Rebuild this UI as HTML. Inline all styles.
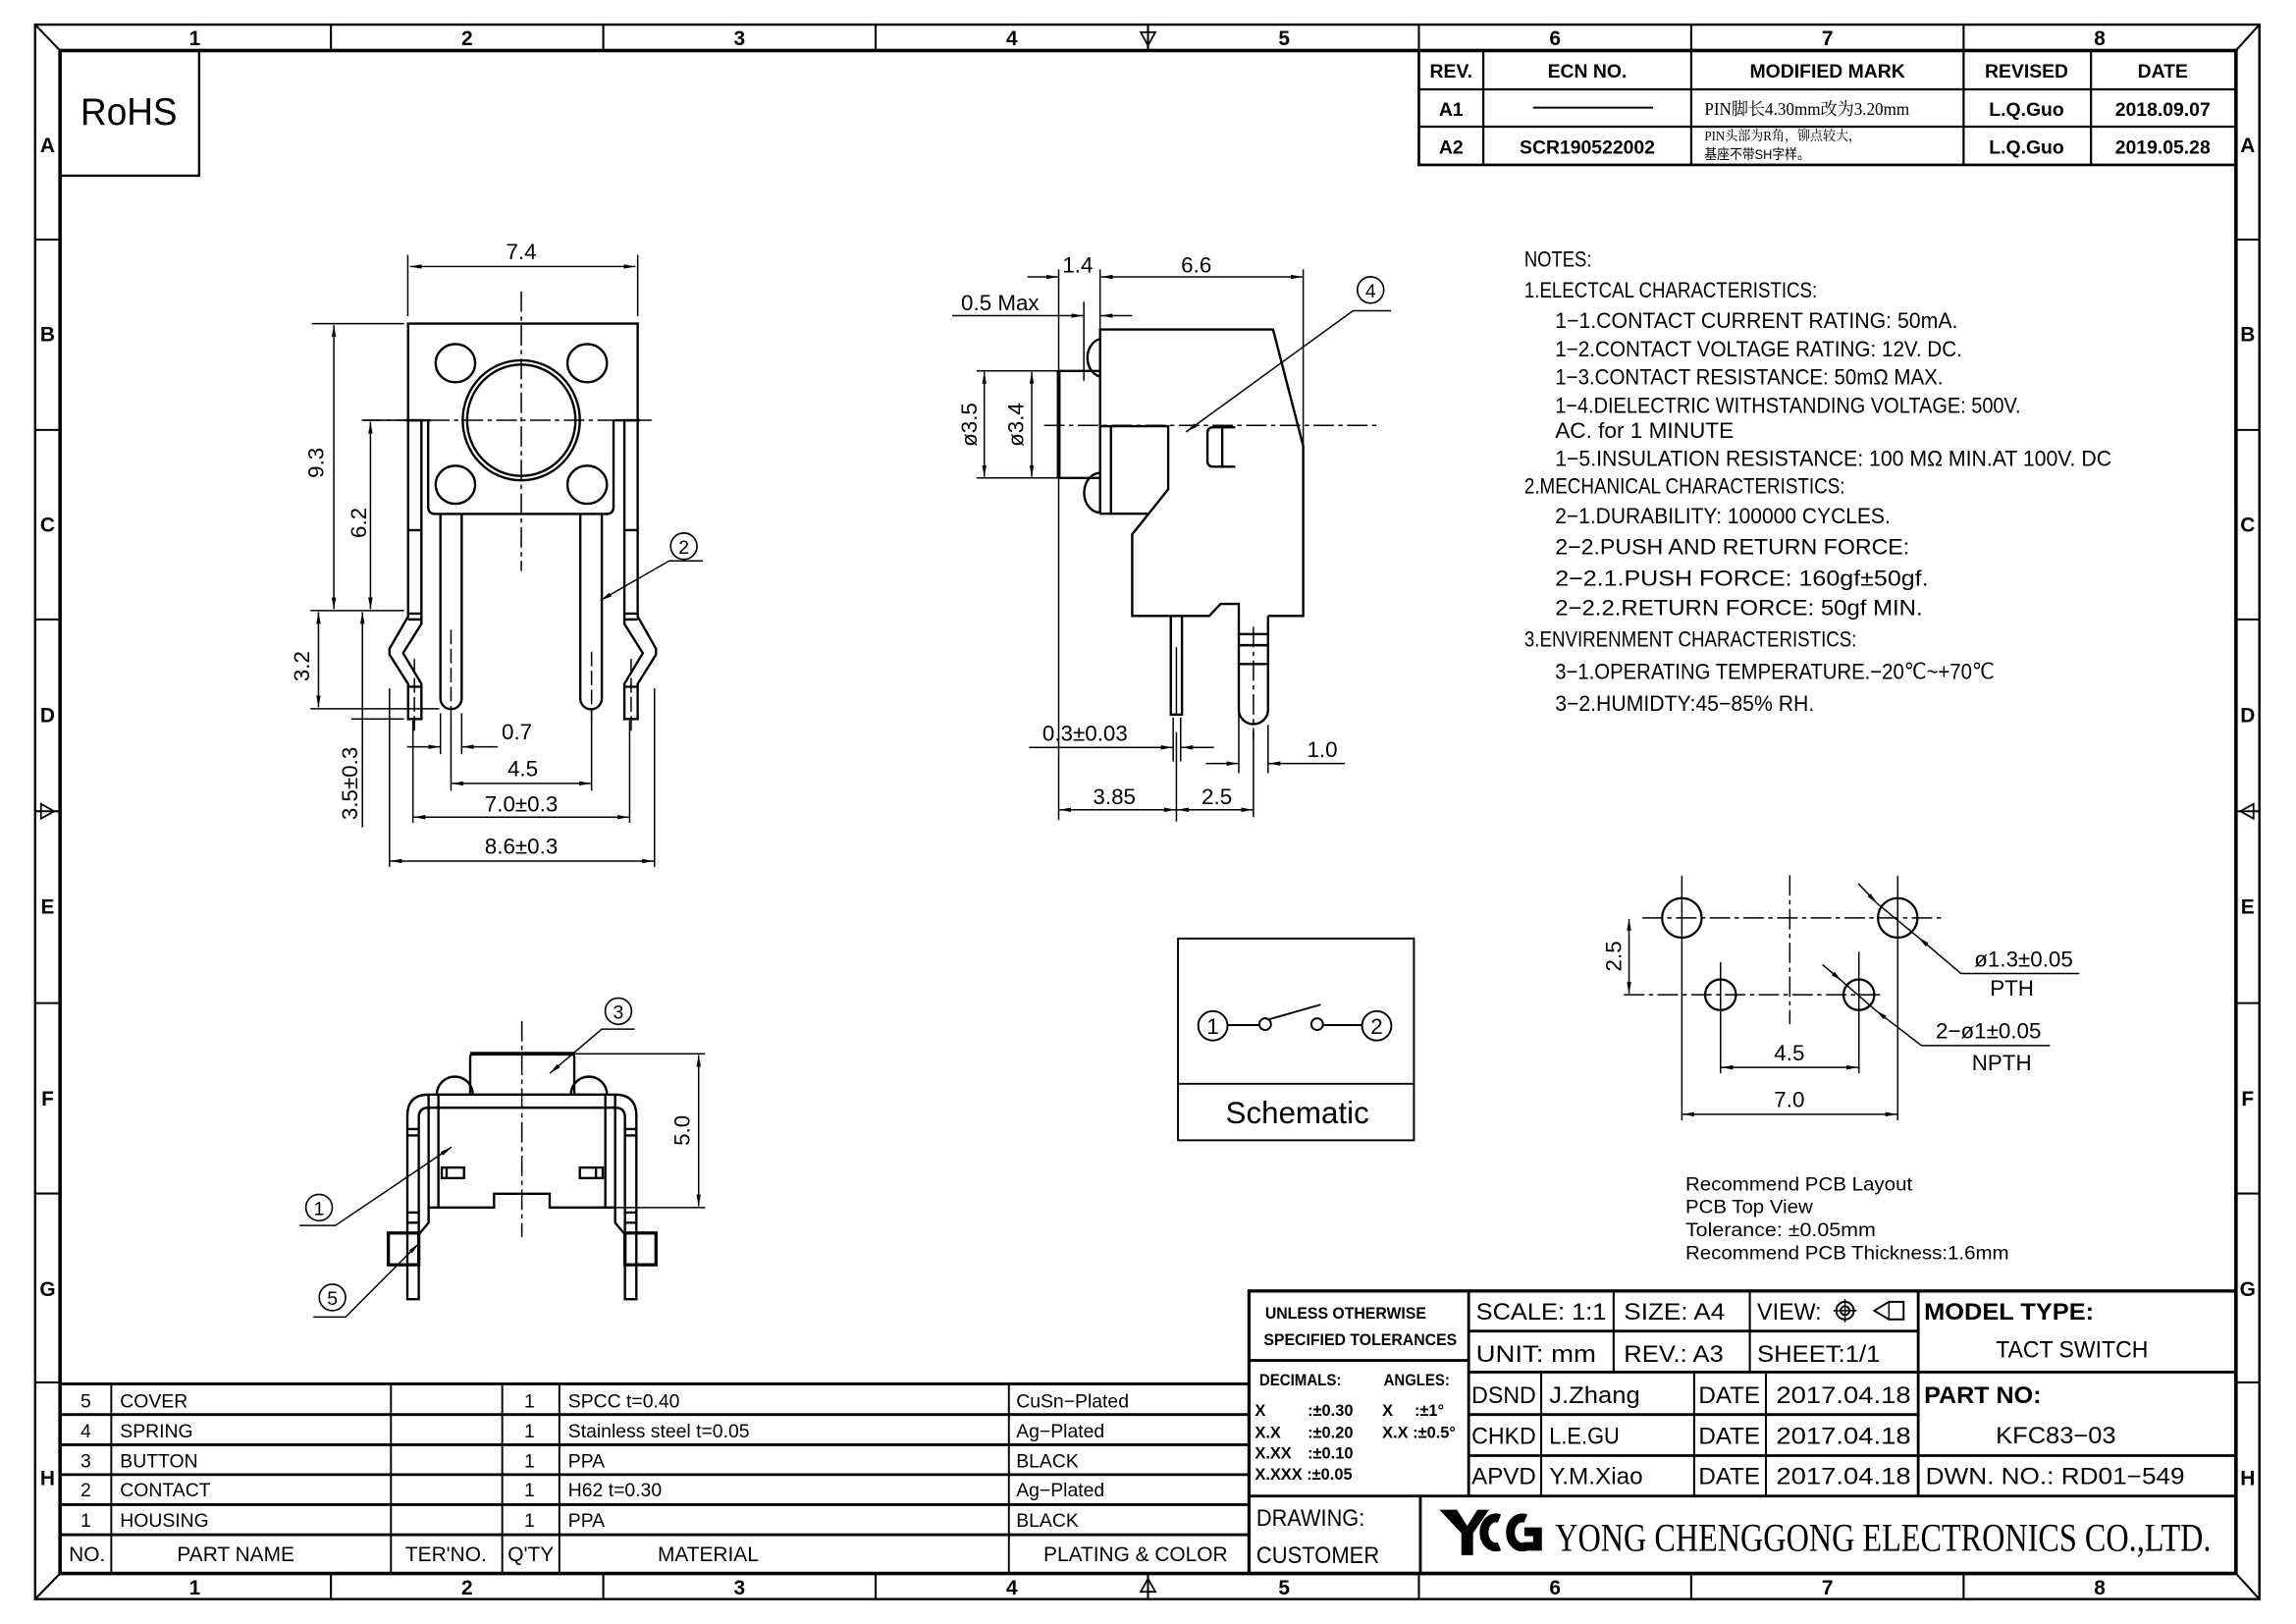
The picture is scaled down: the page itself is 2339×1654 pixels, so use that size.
<!DOCTYPE html>
<html><head><meta charset="utf-8"><style>
html,body{margin:0;padding:0;background:#fff}
svg{display:block}
text{font-family:"Liberation Sans Narrow","Liberation Sans",sans-serif;fill:#000}
.s{font-family:"Liberation Serif","Noto Serif CJK SC",serif}
.c{font-family:"Liberation Sans","Noto Sans CJK SC",sans-serif}
.b{font-weight:bold}
</style></head><body>
<svg width="2339" height="1654" viewBox="0 0 1568 1109" preserveAspectRatio="none" xmlns="http://www.w3.org/2000/svg">
<defs>
<marker id="a" viewBox="0 0 8 3" refX="8" refY="1.5" markerWidth="8" markerHeight="3" markerUnits="userSpaceOnUse" orient="auto-start-reverse"><path d="M0,0 L8,1.5 L0,3z"/></marker>
</defs>
<rect width="1568" height="1109" fill="#fff"/>
<g fill="none" stroke="#000">
<rect x="24" y="16.8" width="1519" height="1075.2" stroke-width="1.6"/>
<rect x="41" y="34.5" width="1486" height="1040" stroke-width="2.4"/>
<path d="M24,16.8L41,34.5M1543,16.8L1527,34.5M24,1092L41,1074.5M1543,1092L1527,1074.5" stroke-width="1.4"/>
<path d="M226,16.8V34.5M412,16.8V34.5M598,16.8V34.5M784,16.8V34.5M969,16.8V34.5M1155,16.8V34.5M1341,16.8V34.5M226,1074.5V1092M412,1074.5V1092M598,1074.5V1092M784,1074.5V1092M969,1074.5V1092M1155,1074.5V1092M1341,1074.5V1092" stroke-width="1.4"/>
<path d="M24,163.6H41M24,293.6H41M24,423H41M24,554H41M24,685H41M24,815H41M24,944H41M1527,163.6H1543M1527,293.6H1543M1527,423H1543M1527,554H1543M1527,685H1543M1527,815H1543M1527,944H1543" stroke-width="1.4"/>
<path d="M779,22L789,22L784,31Z M779,1087L789,1087L784,1078Z M28,549V559L37,554Z M1539,549V559L1530,554Z" stroke-width="1.2"/>
<path d="M41,120H136V34.5" stroke-width="1.6"/>
<rect x="969" y="34.5" width="558" height="78.1" stroke-width="1.8"/>
<path d="M969,61H1527M969,86.5H1527M1013,34.5V112.6M1155,34.5V112.6M1341,34.5V112.6M1428,34.5V112.6" stroke-width="1.5"/>
<path d="M1047,73.5H1129" stroke-width="1.3"/>
</g>
<g class="b" font-size="14" text-anchor="middle" font-weight="bold">
<text x="133" y="31">1</text><text x="319" y="31">2</text><text x="505" y="31">3</text><text x="691" y="31">4</text><text x="877" y="31">5</text><text x="1062" y="31">6</text><text x="1248" y="31">7</text><text x="1434" y="31">8</text>
<text x="133" y="1089">1</text><text x="319" y="1089">2</text><text x="505" y="1089">3</text><text x="691" y="1089">4</text><text x="877" y="1089">5</text><text x="1062" y="1089">6</text><text x="1248" y="1089">7</text><text x="1434" y="1089">8</text>
<text x="32.5" y="104">A</text><text x="32.5" y="233">B</text><text x="32.5" y="363">C</text><text x="32.5" y="493">D</text><text x="32.5" y="624">E</text><text x="32.5" y="755">F</text><text x="32.5" y="885">G</text><text x="32.5" y="1014">H</text>
<text x="1535" y="104">A</text><text x="1535" y="233">B</text><text x="1535" y="363">C</text><text x="1535" y="493">D</text><text x="1535" y="624">E</text><text x="1535" y="755">F</text><text x="1535" y="885">G</text><text x="1535" y="1014">H</text>
</g>
<text x="55" y="85" font-size="26" textLength="66" lengthAdjust="spacingAndGlyphs" class="c">RoHS</text>
<g font-size="13" text-anchor="middle" class="b" font-weight="bold">
<text x="991" y="53">REV.</text><text x="1084" y="53">ECN NO.</text><text x="1248" y="53">MODIFIED MARK</text><text x="1384" y="53">REVISED</text><text x="1477" y="53">DATE</text>
<text x="991" y="79">A1</text><text x="1384" y="79">L.Q.Guo</text><text x="1477" y="79">2018.09.07</text>
<text x="991" y="105">A2</text><text x="1084" y="105">SCR190522002</text><text x="1384" y="105">L.Q.Guo</text><text x="1477" y="105">2019.05.28</text>
</g>
<text x="1164" y="78.5" font-size="12" class="s" textLength="140" lengthAdjust="spacingAndGlyphs">PIN脚长4.30mm改为3.20mm</text>
<text x="1164" y="96" font-size="9.5" class="s" textLength="107" lengthAdjust="spacingAndGlyphs">PIN头部为R角，铆点较大，</text>
<text x="1164" y="108.5" font-size="9.5" class="c" textLength="72" lengthAdjust="spacingAndGlyphs">基座不带SH字样。</text>

<!-- FRONT VIEW -->
<g fill="none" stroke="#000" stroke-width="1.6">
<path d="M278.7,287V221H435.5V287"/>
<path d="M292.4,287V346Q292.4,351 297.4,351H414Q419,351 419,346V287"/>
<ellipse cx="311" cy="248" rx="13.5" ry="13"/><ellipse cx="401" cy="248" rx="13.5" ry="13"/>
<ellipse cx="311" cy="331" rx="13.5" ry="13"/><ellipse cx="401" cy="331" rx="13.5" ry="13"/>
<ellipse cx="356" cy="287" rx="40" ry="41"/><ellipse cx="356" cy="287" rx="37" ry="38"/>
<path d="M300.8,351V477A7.25,7.25 0 0 0 315.3,477V351"/>
<path d="M396.3,351V477A7.25,7.25 0 0 0 411,477V351"/>
<path d="M278.7,287V421L266,443V447L278.7,467V491H287.8V467L275.3,446L287.8,426V287Z"/>
<path d="M278.7,419H287.8M278.7,423H287.8M278.7,469H287.8M278.7,362H287.8"/>
<path d="M435.5,287V421L448,443V447L435.5,467V491H426.4V467L439,446L426.4,426V287Z"/>
<path d="M426.4,419H435.5M426.4,423H435.5M426.4,469H435.5M426.4,362H435.5"/>
<path d="M277,287H294M420,287H437"/>
</g>
<g fill="none" stroke="#000" stroke-width="1">
<path d="M356,199V390M247,287H445" stroke-dasharray="14,3,3,3"/>
<path d="M308,430V492M404,445V492M283,450V500M431,450V500" stroke-dasharray="10,3"/>
<path d="M278.5,174V216M435.5,174V216"/>
<path d="M213,221H276M248,287H277M212,417H276M212,484H300M240,491H276"/>
<path d="M300.8,487V515M315.3,487V515M308,492V540M404,485V540M282,492V562M430,492V562M266,470V592M447,470V592"/>
<path d="M280,182H434" marker-start="url(#a)" marker-end="url(#a)"/>
<path d="M228,222V416" marker-start="url(#a)" marker-end="url(#a)"/>
<path d="M253,288V416" marker-start="url(#a)" marker-end="url(#a)"/>
<path d="M217.5,418V483" marker-start="url(#a)" marker-end="url(#a)"/>
<path d="M247.5,418V490M247.5,490V565" marker-start="url(#a)"/>
<path d="M278,510H300.5" marker-end="url(#a)"/><path d="M340,510H315.6" marker-end="url(#a)"/>
<path d="M308.5,535H403.5" marker-start="url(#a)" marker-end="url(#a)"/>
<path d="M282.5,558H429.5" marker-start="url(#a)" marker-end="url(#a)"/>
<path d="M266.5,588H446.5" marker-start="url(#a)" marker-end="url(#a)"/>
<path d="M480,383H457L410,410" marker-end="url(#a)"/>
</g>
<circle cx="467" cy="373" r="9" fill="none" stroke="#000" stroke-width="1.1"/>
<g font-size="15" text-anchor="middle">
<text x="467" y="378" font-size="13">2</text>
<text x="356" y="177">7.4</text>
<text x="353" y="505">0.7</text>
<text x="357" y="530">4.5</text>
<text x="356" y="554">7.0±0.3</text>
<text x="356" y="583">8.6±0.3</text>
<text transform="translate(221,316) rotate(-90)">9.3</text>
<text transform="translate(250,357) rotate(-90)">6.2</text>
<text transform="translate(211,455) rotate(-90)">3.2</text>
<text transform="translate(244,535) rotate(-90)">3.5±0.3</text>
</g>

<!-- SIDE VIEW -->
<g fill="none" stroke="#000" stroke-width="1.6">
<path d="M751.3,351V225H869.4L890,304.6V420.6H866M846,420.6V412.4H833.6L825.8,420.6H773.2V364.9L797.8,334.1V291H751.3"/>
<path d="M751.3,350.8H784.5M758.7,291V350.8"/>
<path d="M723,253.3H751.3M723,326.4H751.3"/>
<path d="M723,253.3V326.4" stroke-width="2.6"/>
<path d="M751.3,231.5A10.5,13 0 0 0 751.3,257.1M751.3,323A10.5,13 0 0 0 751.3,350"/>
<path d="M843.6,291.8H828.6Q824.6,291.8 824.6,295.8V314.7Q824.6,318.7 828.6,318.7H843.6M834.7,291.8V318.7"/>
<path d="M799.6,420.6V488H807.2V420.6"/>
<path d="M846,420.6V484.5A10,10 0 0 0 866,484.5V420.6"/>
<path d="M846,433H866M846,440.6H866M846,453.5H866"/>
</g>
<g fill="none" stroke="#000" stroke-width="1">
<path d="M803.4,442V488"/>
<path d="M713,290.5H940M856,428V505" stroke-dasharray="14,3,3,3"/>
<path d="M723,184V560M751.3,184V245M890,184V305M740.2,206V260M801.2,490V520M806.3,490V520M846,485V528M866,495V528M803.4,500V561M856,500V558"/>
<path d="M667,253.3H744M667,326.4H744"/>
<path d="M701.7,189.1H722.5" marker-end="url(#a)"/>
<path d="M752,189.1H889.5" marker-start="url(#a)" marker-end="url(#a)"/>
<path d="M650.3,215.6H739.7" marker-end="url(#a)"/><path d="M773.2,215.6H751.8" marker-end="url(#a)"/>
<path d="M672.2,254V325.7" marker-start="url(#a)" marker-end="url(#a)"/>
<path d="M704.6,254V325.7" marker-start="url(#a)" marker-end="url(#a)"/>
<path d="M702.8,510.4H800.8" marker-end="url(#a)"/><path d="M829,510.4H806.7" marker-end="url(#a)"/>
<path d="M823.5,521.4H845.6" marker-end="url(#a)"/><path d="M918.5,521.4H866.4" marker-end="url(#a)"/>
<path d="M723.5,553H803" marker-start="url(#a)" marker-end="url(#a)"/>
<path d="M803.8,553H855.6" marker-start="url(#a)" marker-end="url(#a)"/>
<path d="M950,212.2H924L810,295" marker-end="url(#a)"/>
</g>
<circle cx="936" cy="198" r="9" fill="none" stroke="#000" stroke-width="1.1"/>
<g font-size="15" text-anchor="middle">
<text x="936" y="203" font-size="13">4</text>
<text x="736" y="186">1.4</text>
<text x="817" y="186">6.6</text>
<text x="683" y="212">0.5 Max</text>
<text x="741" y="506">0.3±0.03</text>
<text x="903" y="517">1.0</text>
<text x="761" y="549">3.85</text>
<text x="831" y="549">2.5</text>
<text transform="translate(667,290) rotate(-90)">ø3.5</text>
<text transform="translate(699,290) rotate(-90)">ø3.4</text>
</g>

<!-- NOTES -->
<g font-size="15">
<text x="1041" y="182" textLength="46" lengthAdjust="spacingAndGlyphs">NOTES:</text>
<text x="1041" y="203" textLength="200" lengthAdjust="spacingAndGlyphs">1.ELECTCAL  CHARACTERISTICS:</text>
<text x="1062" y="224" textLength="275" lengthAdjust="spacingAndGlyphs">1−1.CONTACT  CURRENT  RATING:   50mA.</text>
<text x="1062" y="243.5" textLength="278" lengthAdjust="spacingAndGlyphs">1−2.CONTACT  VOLTAGE  RATING:  12V.  DC.</text>
<text x="1062" y="262.5" textLength="265" lengthAdjust="spacingAndGlyphs">1−3.CONTACT  RESISTANCE:  50mΩ  MAX.</text>
<text x="1062" y="282" textLength="318" lengthAdjust="spacingAndGlyphs">1−4.DIELECTRIC  WITHSTANDING  VOLTAGE:  500V.</text>
<text x="1062" y="299" textLength="122" lengthAdjust="spacingAndGlyphs">AC.  for  1  MINUTE</text>
<text x="1062" y="318" textLength="380" lengthAdjust="spacingAndGlyphs">1−5.INSULATION  RESISTANCE:  100  MΩ  MIN.AT  100V.  DC</text>
<text x="1041" y="337" textLength="219" lengthAdjust="spacingAndGlyphs">2.MECHANICAL  CHARACTERISTICS:</text>
<text x="1062" y="357.5" textLength="229" lengthAdjust="spacingAndGlyphs">2−1.DURABILITY:  100000  CYCLES.</text>
<text x="1062" y="378.5" textLength="242" lengthAdjust="spacingAndGlyphs">2−2.PUSH  AND  RETURN  FORCE:</text>
<text x="1062" y="400" textLength="255" lengthAdjust="spacingAndGlyphs">2−2.1.PUSH  FORCE:  160gf±50gf.</text>
<text x="1062" y="420" textLength="251" lengthAdjust="spacingAndGlyphs">2−2.2.RETURN  FORCE:  50gf  MIN.</text>
<text x="1041" y="441.5" textLength="227" lengthAdjust="spacingAndGlyphs">3.ENVIRENMENT  CHARACTERISTICS:</text>
<text x="1062" y="463.5" textLength="300" lengthAdjust="spacingAndGlyphs">3−1.OPERATING  TEMPERATURE.−20℃~+70℃</text>
<text x="1062" y="485.5" textLength="177" lengthAdjust="spacingAndGlyphs">3−2.HUMIDTY:45−85%  RH.</text>
</g>

<!-- SCHEMATIC -->
<g fill="none" stroke="#000" stroke-width="1.3">
<rect x="804.5" y="640.9" width="161.1" height="137.8"/>
<path d="M804.5,740.1H965.6"/>
<circle cx="828.3" cy="700.5" r="10"/><circle cx="940.2" cy="700.5" r="10"/>
<circle cx="864" cy="699.4" r="4"/><circle cx="899.5" cy="699.4" r="4"/>
<path d="M838.5,700H860M903.5,700H930M867,696L902,686"/>
</g>
<g text-anchor="middle" class="c">
<text x="828.3" y="706" font-size="15">1</text><text x="940.2" y="706" font-size="15">2</text>
<text x="886" y="767" font-size="21" font-family="Liberation Sans">Schematic</text>
</g>

<!-- PCB LAYOUT -->
<g fill="none" stroke="#000" stroke-width="1.5">
<ellipse cx="1148.6" cy="626.8" rx="13.5" ry="13.5"/>
<ellipse cx="1296" cy="626.8" rx="13.5" ry="13.5"/>
<circle cx="1175" cy="679.3" r="10.5"/>
<circle cx="1269.5" cy="679.3" r="10.5"/>
</g>
<g fill="none" stroke="#000" stroke-width="1">
<path d="M1222.3,597.7V699.4M1121.6,626.8H1327.5M1109,679.3H1286.8" stroke-dasharray="14,3,3,3"/>
<path d="M1148.6,598V765M1296,598V765M1175,657V733M1269.5,650V733"/>
<path d="M1112.5,627.5V678.6" marker-start="url(#a)" marker-end="url(#a)"/>
<path d="M1175.5,728.9H1269" marker-start="url(#a)" marker-end="url(#a)"/>
<path d="M1149,760.9H1295.6" marker-start="url(#a)" marker-end="url(#a)"/>
<path d="M1269,603.3L1282,617" marker-end="url(#a)"/>
<path d="M1420,664.8H1339.2L1310,640" marker-end="url(#a)"/>
<path d="M1244.6,658.7L1258,670" marker-end="url(#a)"/>
<path d="M1400,714H1312.2L1281,690" marker-end="url(#a)"/>
<path d="M1282,617L1310,640M1258,670L1281,690"/>
</g>
<g font-size="15" text-anchor="middle">
<text transform="translate(1107,653) rotate(-90)">2.5</text>
<text x="1222" y="724">4.5</text>
<text x="1222" y="756">7.0</text>
<text x="1382" y="660">ø1.3±0.05</text>
<text x="1374" y="680">PTH</text>
<text x="1358" y="709">2−ø1±0.05</text>
<text x="1367" y="731">NPTH</text>
</g>
<g font-size="13">
<text x="1151" y="813" textLength="155" lengthAdjust="spacingAndGlyphs">Recommend  PCB  Layout</text>
<text x="1151" y="828.5" textLength="87" lengthAdjust="spacingAndGlyphs">PCB  Top  View</text>
<text x="1151" y="844" textLength="130" lengthAdjust="spacingAndGlyphs">Tolerance:  ±0.05mm</text>
<text x="1151" y="860" textLength="221" lengthAdjust="spacingAndGlyphs">Recommend  PCB  Thickness:1.6mm</text>
</g>

<!-- BOTTOM VIEW -->
<g fill="none" stroke="#000" stroke-width="1.6">
<path d="M321.1,747.5V722Q321.1,719.6 324,719.6H390Q392.2,719.6 392.2,722V747.5"/>
<path d="M321.1,719.6H392.2" stroke-width="2.6"/>
<path d="M298.3,747.5A12.3,12.3 0 0 1 322.9,747.5M389.9,747.5A12.3,12.3 0 0 1 414.5,747.5"/>
<path d="M292.7,747.5H420.1M292.7,756.4H420.1"/>
<path d="M292.7,747.5V824.6M299.4,747.5V824.6M413.4,747.5V824.6M420.1,747.5V824.6"/>
<path d="M292.7,824.6H337.4V815.2H375.4V824.6H420.1"/>
<path d="M292.7,747.5Q278.2,747.5 278.2,762V887.2H286V763Q286,756.4 292.7,756.4"/>
<path d="M420.1,747.5Q434.6,747.5 434.6,762V887.2H426.8V763Q426.8,756.4 420.1,756.4"/>
<path d="M278.2,771H286M278.2,775.4H286M278.2,828H286M278.2,835H286M426.8,771H434.6M426.8,775.4H434.6M426.8,828H434.6M426.8,835H434.6"/>
<path d="M292.7,824.6V835L286,843M420.1,824.6V835L426.8,843"/>
<rect x="265.2" y="842" width="20.8" height="21.7" stroke-width="2.2"/>
<rect x="426.8" y="842" width="21.2" height="21.7" stroke-width="2.2"/>
<rect x="301.7" y="797.3" width="15.2" height="7.2"/><rect x="396" y="797.3" width="15.6" height="7.2"/>
<path d="M305,797.3V804.5M407,797.3V804.5"/>
</g>
<g fill="none" stroke="#000" stroke-width="1">
<path d="M356.4,697.2V844.7" stroke-dasharray="14,3,3,3"/>
<path d="M392.2,719.6H481.5M420.1,824.6H481.5"/>
<path d="M477.1,720.5V823.7" marker-start="url(#a)" marker-end="url(#a)"/>
<path d="M433.5,702.8H411L375.4,733" marker-end="url(#a)"/>
<path d="M204.5,836.9H229L308.4,783.3" marker-end="url(#a)"/>
<path d="M214,899.4H236L286,849.2" marker-end="url(#a)"/>
</g>
<circle cx="422.3" cy="690.5" r="9" fill="none" stroke="#000" stroke-width="1.1"/>
<circle cx="217.9" cy="824.6" r="9" fill="none" stroke="#000" stroke-width="1.1"/>
<circle cx="227" cy="886" r="9" fill="none" stroke="#000" stroke-width="1.1"/>
<g text-anchor="middle" font-size="13">
<text x="422.3" y="695.5">3</text><text x="217.9" y="829.6">1</text><text x="227" y="891">5</text>
<text transform="translate(471,772) rotate(-90)" font-size="15">5.0</text>
</g>

<!-- PARTS LIST -->
<g fill="none" stroke="#000">
<path d="M41,945H853M41,966H853M41,986.6H853M41,1007H853M41,1027.5H853M41,1048H853" stroke-width="1.9"/>
<path d="M76,945V1074.5M267,945V1074.5M343,945V1074.5M382,945V1074.5M689,945V1074.5" stroke-width="1.3"/>
<path d="M853,881.6V1074.5" stroke-width="1.9"/>
</g>
<g font-size="13">
<text x="55" y="961">5</text><text x="82" y="961">COVER</text><text x="358" y="961">1</text><text x="388" y="961">SPCC  t=0.40</text><text x="694" y="961">CuSn−Plated</text>
<text x="55" y="981.5">4</text><text x="82" y="981.5">SPRING</text><text x="358" y="981.5">1</text><text x="388" y="981.5">Stainless  steel    t=0.05</text><text x="694" y="981.5">Ag−Plated</text>
<text x="55" y="1002">3</text><text x="82" y="1002">BUTTON</text><text x="358" y="1002">1</text><text x="388" y="1002">PPA</text><text x="694" y="1002">BLACK</text>
<text x="55" y="1022">2</text><text x="82" y="1022">CONTACT</text><text x="358" y="1022">1</text><text x="388" y="1022">H62  t=0.30</text><text x="694" y="1022">Ag−Plated</text>
<text x="55" y="1042.5">1</text><text x="82" y="1042.5">HOUSING</text><text x="358" y="1042.5">1</text><text x="388" y="1042.5">PPA</text><text x="694" y="1042.5">BLACK</text>
</g>
<g font-size="14" text-anchor="middle">
<text x="59.5" y="1066">NO.</text><text x="161" y="1066">PART  NAME</text><text x="304.6" y="1066">TER'NO.</text><text x="362.5" y="1066">Q'TY</text><text x="483.6" y="1066">MATERIAL</text><text x="775.5" y="1066">PLATING  &amp;  COLOR</text>
</g>

<!-- TITLE BLOCK -->
<g fill="none" stroke="#000">
<rect x="853" y="881.6" width="674" height="192.9" stroke-width="2.2"/>
<path d="M853,929H1003M1003,909H1310M1003,937H1527M1003,966H1310M1003,994H1527M853,1021.6H1527" stroke-width="1.9"/>
<path d="M1003,881.6V1021.6M1310,881.6V1021.6M970,1021.6V1074.5" stroke-width="1.9"/>
<path d="M1102,881.6V937M1195,881.6V937M1052.5,937V1021.6M1157,937V1021.6M1206,937V1021.6" stroke-width="1.4"/>
<circle cx="1260" cy="895" r="6" stroke-width="1.3"/><circle cx="1260" cy="895" r="3" stroke-width="1.3"/>
<path d="M1252,895H1268M1260,887V903" stroke-width="1"/>
<path d="M1280,895L1290,889H1300V901H1290Z" stroke-width="1.3"/><path d="M1290,889V901" stroke-width="1"/>
</g>
<g font-size="11" class="b" font-weight="bold">
<text x="864" y="900.5" textLength="110" lengthAdjust="spacingAndGlyphs">UNLESS  OTHERWISE</text>
<text x="863" y="918.5" textLength="132" lengthAdjust="spacingAndGlyphs">SPECIFIED  TOLERANCES</text>
<text x="860" y="946" textLength="56" lengthAdjust="spacingAndGlyphs">DECIMALS:</text>
<text x="945" y="946" textLength="45" lengthAdjust="spacingAndGlyphs">ANGLES:</text>
<text x="857" y="967">X</text><text x="893" y="967">:±0.30</text><text x="944" y="967">X</text><text x="966" y="967">:±1°</text>
<text x="857" y="982">X.X</text><text x="893" y="982">:±0.20</text><text x="944" y="982">X.X :±0.5°</text>
<text x="857" y="996">X.XX</text><text x="893" y="996">:±0.10</text>
<text x="857" y="1010.5">X.XXX :±0.05</text>
</g>
<g font-size="16">
<text x="1008" y="901" textLength="89" lengthAdjust="spacingAndGlyphs">SCALE:  1:1</text>
<text x="1109" y="901" textLength="69" lengthAdjust="spacingAndGlyphs">SIZE:  A4</text>
<text x="1200" y="901" textLength="44" lengthAdjust="spacingAndGlyphs">VIEW:</text>
<text x="1008" y="930" textLength="82" lengthAdjust="spacingAndGlyphs">UNIT:  mm</text>
<text x="1109" y="930" textLength="68" lengthAdjust="spacingAndGlyphs">REV.:  A3</text>
<text x="1200" y="930" textLength="84" lengthAdjust="spacingAndGlyphs">SHEET:1/1</text>
<text x="1005" y="958" textLength="44" lengthAdjust="spacingAndGlyphs">DSND</text>
<text x="1005" y="986" textLength="44" lengthAdjust="spacingAndGlyphs">CHKD</text>
<text x="1005" y="1013.5" textLength="44" lengthAdjust="spacingAndGlyphs">APVD</text>
<text x="1058" y="958" textLength="62" lengthAdjust="spacingAndGlyphs">J.Zhang</text>
<text x="1058" y="986" textLength="48" lengthAdjust="spacingAndGlyphs">L.E.GU</text>
<text x="1058" y="1013.5" textLength="64" lengthAdjust="spacingAndGlyphs">Y.M.Xiao</text>
<text x="1160" y="958" textLength="42" lengthAdjust="spacingAndGlyphs">DATE</text>
<text x="1160" y="986" textLength="42" lengthAdjust="spacingAndGlyphs">DATE</text>
<text x="1160" y="1013.5" textLength="42" lengthAdjust="spacingAndGlyphs">DATE</text>
<text x="1213" y="958" textLength="92" lengthAdjust="spacingAndGlyphs">2017.04.18</text>
<text x="1213" y="986" textLength="92" lengthAdjust="spacingAndGlyphs">2017.04.18</text>
<text x="1213" y="1013.5" textLength="92" lengthAdjust="spacingAndGlyphs">2017.04.18</text>
<text x="1415" y="927" text-anchor="middle" textLength="104" lengthAdjust="spacingAndGlyphs">TACT  SWITCH</text>
<text x="1404" y="985.5" text-anchor="middle" textLength="82" lengthAdjust="spacingAndGlyphs">KFC83−03</text>
<text x="1315" y="1013.5" textLength="177" lengthAdjust="spacingAndGlyphs">DWN.  NO.:  RD01−549</text>
<text x="858" y="1042" textLength="74" lengthAdjust="spacingAndGlyphs">DRAWING:</text>
<text x="858" y="1067.5" textLength="84" lengthAdjust="spacingAndGlyphs">CUSTOMER</text>
</g>
<g class="s b" font-weight="bold" font-size="16">
<text x="1314" y="901" textLength="116" lengthAdjust="spacingAndGlyphs">MODEL  TYPE:</text>
<text x="1314" y="958" textLength="80" lengthAdjust="spacingAndGlyphs">PART  NO:</text>
</g>
<g fill="#000">
<path d="M983,1031H995L1002,1042L1009,1031H1017L1006,1047V1062H998V1047Z"/>
</g>
<g fill="none" stroke="#000" stroke-width="6">
<path d="M1024,1037A8,10 0 1 0 1024,1056"/>
<path d="M1042,1037A8,10 0 1 0 1042,1056H1050V1046H1041"/>
</g>
<text x="1062" y="1059" class="s" font-size="27" textLength="448" lengthAdjust="spacingAndGlyphs">YONG  CHENGGONG  ELECTRONICS  CO.,LTD.</text>
</svg>
</body></html>
